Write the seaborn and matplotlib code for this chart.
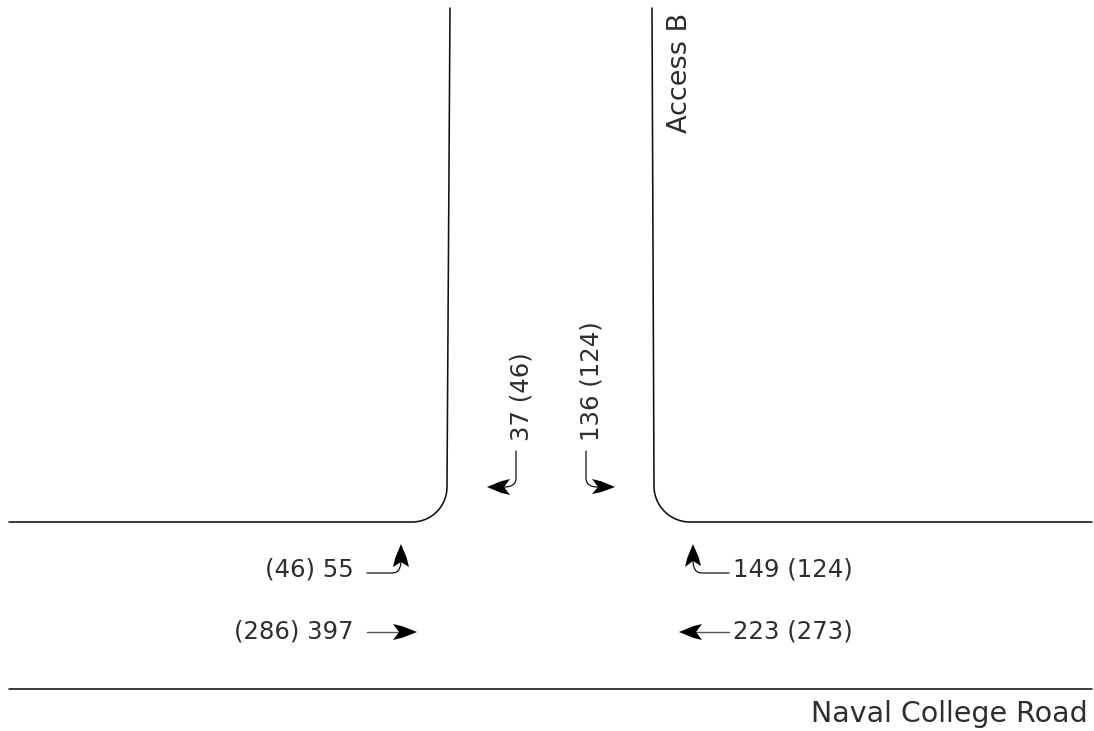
import matplotlib
matplotlib.use('Agg')
import matplotlib.pyplot as plt
import numpy as np
import seaborn as sns
from matplotlib.patches import Polygon

# turning counts at the intersection
movements = ['EB left', 'EB through', 'WB left', 'WB through', 'SB right', 'SB left']
counts_main = [55, 397, 149, 223, 37, 136]
counts_bracket = [46, 286, 124, 273, 46, 124]
road_names = ['Naval College Road', 'Access B']

INK = '#111111'
TEXT = '#2e2e2e'

sns.set_theme(style='white')
plt.rcParams['font.family'] = ['DejaVu Sans']

fig = plt.figure(figsize=(10.94, 7.31), dpi=100)
ax = fig.add_axes([0, 0, 1, 1])
ax.set_xlim(0, 1094)
ax.set_ylim(731, 0)
ax.axis('off')


def bend(p0, c, p1, n=24):
    t = np.linspace(0, 1, n)[:, None]
    p0, c, p1 = map(np.array, (p0, c, p1))
    return (1 - t) ** 2 * p0 + 2 * t * (1 - t) * c + t ** 2 * p1


def arc(cx, cy, r, a0, a1, n=30):
    a = np.radians(np.linspace(a0, a1, n))
    return np.column_stack([cx + r * np.cos(a), cy + r * np.sin(a)])


def draw_line(pts, lw=1.15, color=INK):
    pts = np.asarray(pts, dtype=float)
    sns.lineplot(x=pts[:, 0], y=pts[:, 1], sort=False, estimator=None,
                 color=color, linewidth=lw, ax=ax, legend=False)


def draw_head(tip, back_a, back_b, notch, bulge=0.9):
    tip, back_a, back_b, notch = map(np.array, (tip, back_a, back_b, notch))
    axis = (tip - notch) / np.linalg.norm(tip - notch)
    side = np.array([-axis[1], axis[0]])
    # sides of the head are slightly convex
    shoulders = []
    for back in (back_a, back_b):
        mid = tip + 0.6 * (back - tip)
        shoulders.append(mid + np.sign(np.dot(back - tip, side)) * bulge * side)
    outline = [tip, shoulders[0], back_a, notch, back_b, shoulders[1]]
    ax.add_patch(Polygon(outline, closed=True, facecolor='black',
                         edgecolor='none', zorder=3))


# road edges
left_edge = np.vstack([[(450, 8)], arc(412, 487, 35, 0, 90), [(9, 522)]])
right_edge = np.vstack([[(652, 8)], arc(690, 486, 36, 180, 90), [(1092, 522)]])
draw_line(left_edge)
draw_line(right_edge)
draw_line([(9, 689), (1092, 689)])

# arrows, shaft first then head
draw_line(np.vstack([[(367, 573)], bend((392, 573), (401, 573), (401, 560))]), lw=0.9)
draw_head((401, 544), (393, 567), (409, 567), (401, 562))

draw_line([(367, 632), (402, 632)], lw=1.0, color='#555555')
draw_head((417, 632), (393, 624), (393, 640), (399, 632))

draw_line(np.vstack([[(729, 573)], bend((702, 573), (693, 573), (693, 560))]), lw=0.9)
draw_head((693, 544), (685, 567), (701, 566), (693, 561))

draw_line([(729, 632), (694, 632)], lw=1.0, color='#555555')
draw_head((679, 632), (702, 624), (702, 640), (696, 632))

draw_line(np.vstack([[(516, 451)], bend((516, 478), (516, 487), (504, 487))]), lw=0.9)
draw_head((487, 487), (510, 479), (510, 495), (504, 487))

draw_line(np.vstack([[(586, 451)], bend((586, 478), (586, 487), (598, 487))]), lw=0.9)
draw_head((615, 487), (592, 479), (592, 494), (598, 487))

# labels
label_style = dict(color=TEXT, fontsize=17.6, fontweight='normal')
road_style = dict(color=TEXT, fontweight='normal')


def count_text(i, bracket_first=False):
    if bracket_first:
        return f'({counts_bracket[i]}) {counts_main[i]}'
    return f'{counts_main[i]} ({counts_bracket[i]})'


ax.text(354, 570, count_text(0, True), ha='right', va='center', **label_style)
ax.text(354, 631, count_text(1, True), ha='right', va='center', **label_style)
ax.text(733, 569, count_text(2), ha='left', va='center', **label_style)
ax.text(733, 631, count_text(3), ha='left', va='center', **label_style)
ax.text(522, 441, count_text(4), ha='center', va='bottom', rotation=90, **label_style)
ax.text(592, 441, count_text(5), ha='center', va='bottom', rotation=90, **label_style)

ax.text(1088, 714, road_names[0], ha='right', va='center', fontsize=20.5, **road_style)
ax.text(680, 133, road_names[1], ha='center', va='bottom', rotation=90, fontsize=19.5, **road_style)

fig.savefig('out.png', dpi=100)
